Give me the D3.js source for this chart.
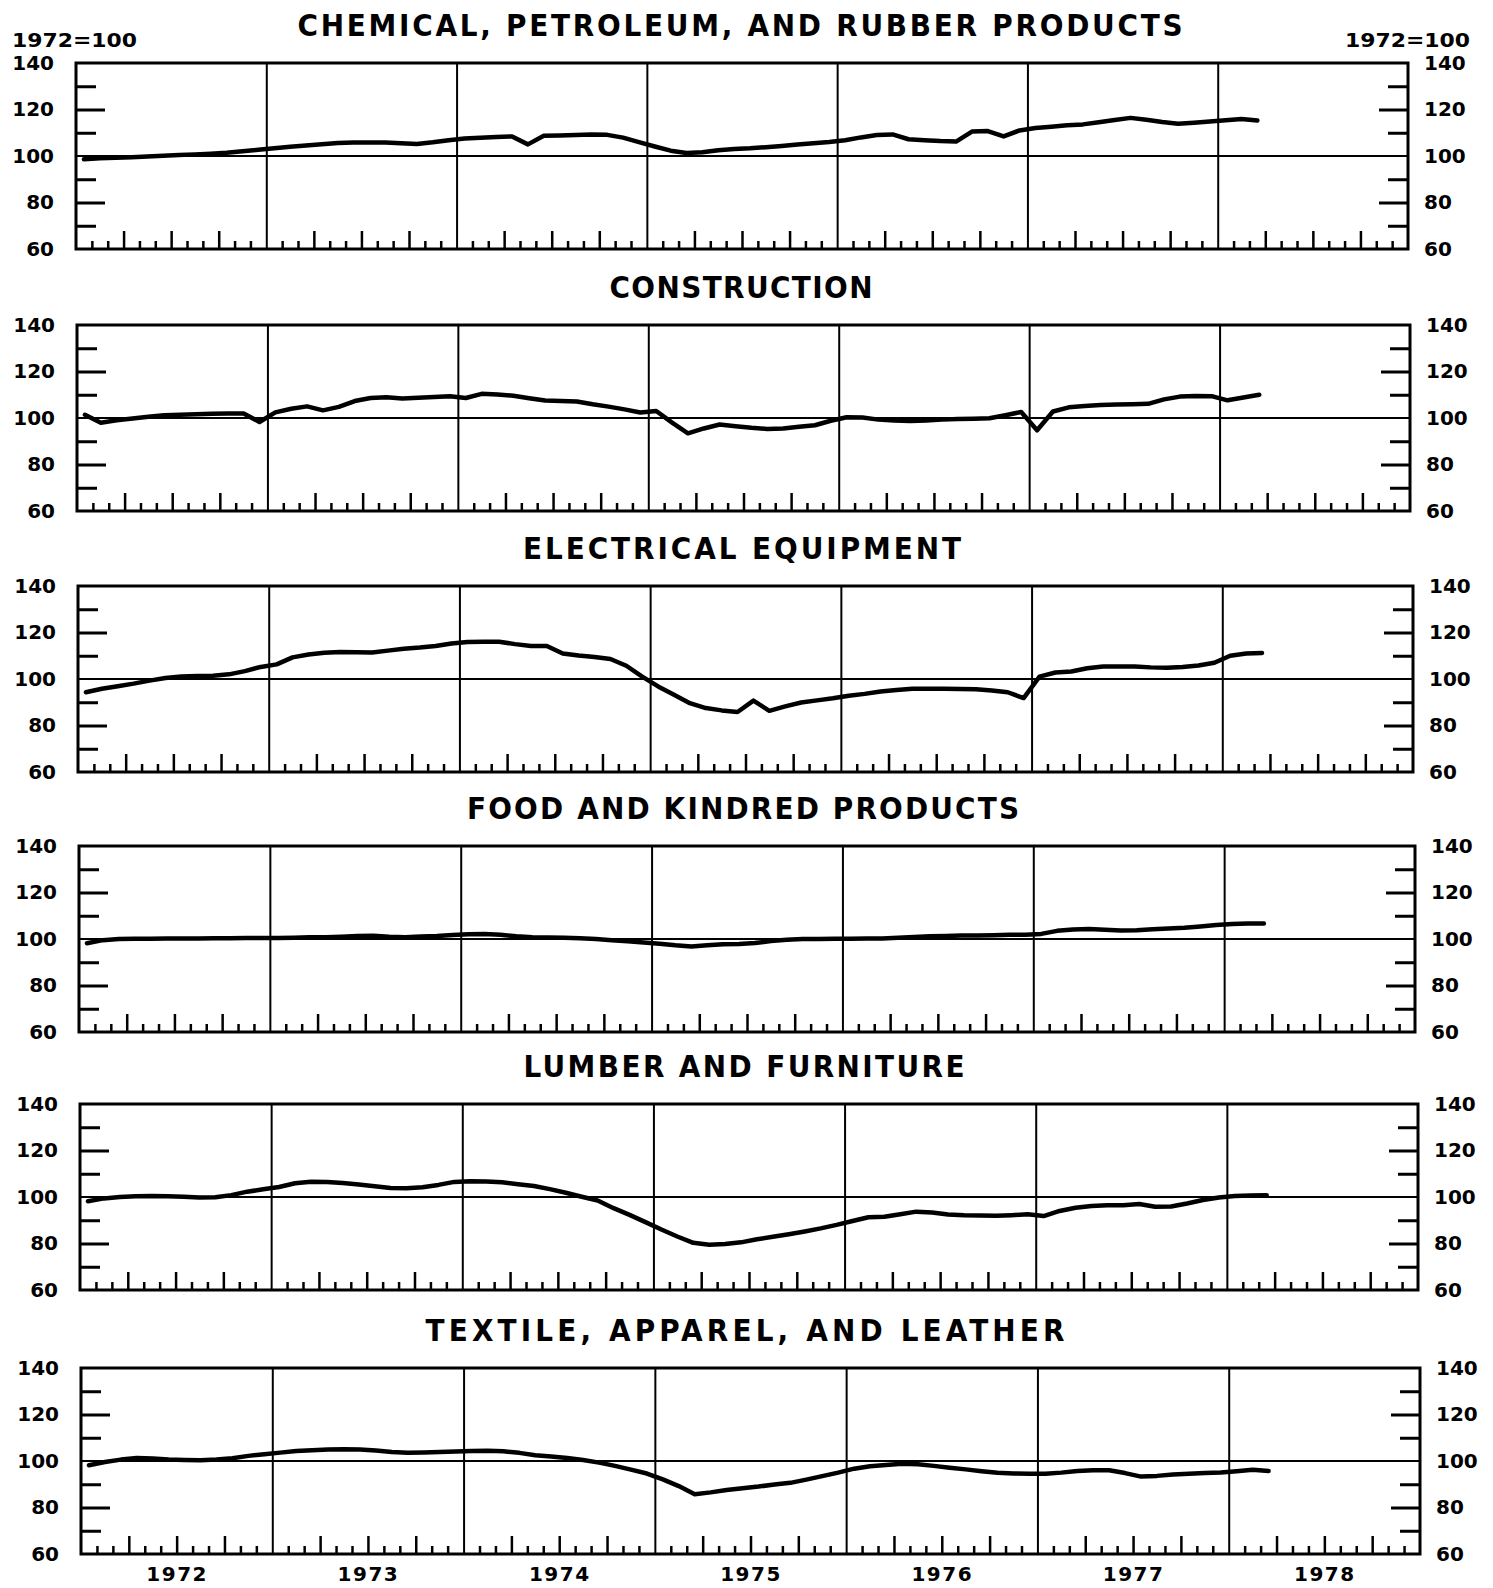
<!DOCTYPE html>
<html>
<head>
<meta charset="utf-8">
<script src="https://cdn.jsdelivr.net/npm/d3@7"></script>
<style>
  body { margin: 0; background: #fff; }
  text { font-family: "DejaVu Sans", sans-serif; font-weight: bold; fill: #000; }
  .title { font-stretch: condensed; }
</style>
</head>
<body>
<div id="chart"></div>
<script>

// values are 1972=100, monthly Jan 1972 .. Mar 1978
var years = ["1972", "1973", "1974", "1975", "1976", "1977", "1978"]
var yLabels = [60, 80, 100, 120, 140]
var titles = [
  "CHEMICAL, PETROLEUM, AND RUBBER PRODUCTS",
  "CONSTRUCTION",
  "ELECTRICAL EQUIPMENT",
  "FOOD AND KINDRED PRODUCTS",
  "LUMBER AND FURNITURE",
  "TEXTILE, APPAREL, AND LEATHER"
]

var chemical = [98.6, 99, 99.2, 99.5, 99.8, 100.1, 100.4, 100.7, 101, 101.4, 102, 102.7,
  103.3, 104, 104.5, 105.1, 105.6, 105.8, 105.8, 105.8, 105.5, 105.2, 105.9, 106.8,
  107.5, 107.9, 108.2, 108.4, 105, 108.7, 108.8, 109, 109.2, 109.1, 107.9, 106,
  104.1, 102.3, 101.3, 101.6, 102.5, 103, 103.3, 103.8, 104.3, 104.9, 105.5, 106,
  106.8, 108, 109, 109.3, 107.2, 106.8, 106.4, 106.2, 110.5, 110.7, 108.4, 111,
  112, 112.6, 113.2, 113.6, 114.5, 115.5, 116.4, 115.6, 114.6, 113.9, 114.3, 114.8,
  115.4, 115.9, 115.3]

var construction = [101.4, 98, 99, 99.8, 100.5, 101.2, 101.4, 101.6, 101.8, 101.9, 101.9, 98.3,
  102.4, 104, 105, 103.3, 104.8, 107.3, 108.6, 108.9, 108.4, 108.7, 109, 109.4,
  108.6, 110.4, 110.1, 109.6, 108.5, 107.5, 107.3, 107.1, 105.9, 104.9, 103.7, 102.4,
  103, 98, 93.4, 95.5, 97.2, 96.5, 95.8, 95.3, 95.5, 96.2, 96.9, 98.8,
  100.3, 100.2, 99.3, 98.9, 98.7, 98.9, 99.3, 99.6, 99.7, 99.9, 101.2, 102.6,
  94.7, 102.8, 104.6, 105.2, 105.6, 105.8, 105.9, 106.1, 108, 109.2, 109.5, 109.4,
  107.6, 108.8, 110]

var electrical = [94.3, 95.8, 96.9, 98, 99.3, 100.4, 101.1, 101.3, 101.4, 102, 103.4, 105.2,
  106.3, 109.3, 110.5, 111.3, 111.6, 111.5, 111.4, 112.2, 113, 113.5, 114.2, 115.3,
  115.9, 116, 116, 115, 114.2, 114.2, 111, 110.1, 109.5, 108.6, 105.7, 101,
  96.8, 93.2, 89.6, 87.5, 86.5, 85.8, 90.7, 86.3, 88.2, 89.9, 90.8, 91.7,
  92.8, 93.6, 94.6, 95.3, 95.8, 95.8, 95.8, 95.7, 95.6, 95.1, 94.3, 91.8,
  101, 102.8, 103.2, 104.6, 105.4, 105.4, 105.4, 105, 104.8, 105.2, 105.8, 107,
  110, 111, 111.2]

var food = [98.2, 99.5, 100, 100.1, 100.1, 100.2, 100.2, 100.2, 100.3, 100.3, 100.4, 100.4,
  100.4, 100.5, 100.7, 100.8, 101, 101.3, 101.4, 101, 100.8, 101.1, 101.3, 101.7,
  102, 102.2, 101.8, 101.2, 100.8, 100.6, 100.5, 100.3, 100, 99.5, 99, 98.5,
  98, 97.3, 96.8, 97.3, 97.7, 97.9, 98.3, 99.1, 99.7, 100, 100, 100.1,
  100.1, 100.2, 100.2, 100.5, 100.9, 101.2, 101.3, 101.5, 101.5, 101.6, 101.8, 101.8,
  102.2, 103.5, 104.1, 104.3, 104, 103.7, 103.8, 104.2, 104.5, 104.8, 105.4, 106,
  106.4, 106.7, 106.7]

var lumber = [98.2, 99.4, 100, 100.3, 100.4, 100.3, 100.1, 99.8, 99.9, 100.8, 102.3, 103.3,
  104.3, 105.9, 106.6, 106.5, 106, 105.4, 104.6, 103.9, 103.8, 104.2, 105.2, 106.5,
  106.8, 106.7, 106.3, 105.5, 104.7, 103.4, 101.8, 100.1, 98.5, 95.2, 92.3, 89.2,
  86, 83, 80.3, 79.5, 79.8, 80.5, 81.8, 82.9, 84, 85.2, 86.5, 88,
  89.7, 91.3, 91.5, 92.6, 93.7, 93.3, 92.5, 92.1, 92, 91.9, 92.2, 92.6,
  91.8, 94, 95.4, 96.1, 96.5, 96.5, 97, 95.8, 95.9, 97.2, 98.7, 99.8,
  100.4, 100.6, 100.7]

var textile = [98.2, 99.6, 100.6, 101.3, 101.1, 100.6, 100.4, 100.3, 100.6, 101.2, 102.2, 102.9,
  103.6, 104.3, 104.6, 104.9, 105.1, 104.9, 104.5, 103.9, 103.5, 103.7, 103.9, 104.1,
  104.3, 104.4, 104.2, 103.5, 102.5, 101.9, 101.3, 100.4, 99.3, 97.9, 96.3, 94.6,
  92.1, 89.2, 85.7, 86.5, 87.5, 88.3, 89, 89.9, 90.6, 92, 93.5, 95,
  96.7, 97.7, 98.3, 98.8, 98.6, 97.9, 97.1, 96.4, 95.6, 94.9, 94.6, 94.5,
  94.5, 95, 95.7, 96, 96, 94.8, 93.3, 93.6, 94.2, 94.5, 94.8, 95.1,
  95.6, 96.2, 95.7]

var series = [chemical, construction, electrical, food, lumber, textile]

// panel frames (the scan is slightly skewed)
var H = 186
var tops = [63, 325, 586, 846, 1104, 1368]
var lefts = [76, 77, 78, 79, 80, 81]
var rights = [1408, 1410, 1413, 1415, 1418, 1420]

var svg = d3.select("#chart")
  .append("svg")
  .attr("width", 1493)
  .attr("height", 1588)

function noDomain(s) { s.select(".domain").remove() }

series.forEach(function (vals, k) {
  var top = tops[k], bottom = tops[k] + H
  var x = d3.scaleLinear().domain([0, 84]).range([lefts[k], rights[k]])
  var y = d3.scaleLinear().domain([60, 140]).range([bottom, top])
  var g = svg.append("g")

  // year separators
  g.append("g")
    .attr("transform", "translate(0," + bottom + ")")
    .call(d3.axisBottom(x).tickValues(d3.range(12, 84, 12)).tickSize(-H).tickFormat(""))
    .call(noDomain)
    .selectAll("line").attr("stroke", "#000").attr("stroke-width", 2)

  // month ticks
  var monthsMinor = d3.range(1, 84).filter(function (m) { return m % 3 != 0 })
  var monthsMajor = d3.range(1, 84).filter(function (m) { return m % 3 == 0 && m % 12 != 0 })
  g.append("g")
    .attr("transform", "translate(0," + bottom + ")")
    .call(d3.axisBottom(x).tickValues(monthsMinor).tickSize(-8).tickFormat(""))
    .call(noDomain)
    .selectAll("line").attr("stroke", "#000").attr("stroke-width", 2.5)
  g.append("g")
    .attr("transform", "translate(0," + bottom + ")")
    .call(d3.axisBottom(x).tickValues(monthsMajor).tickSize(-18).tickFormat(""))
    .call(noDomain)
    .selectAll("line").attr("stroke", "#000").attr("stroke-width", 2.5)

  // 100 reference line
  g.append("line")
    .attr("x1", x(0)).attr("x2", x(84))
    .attr("y1", y(100)).attr("y2", y(100))
    .attr("stroke", "#000").attr("stroke-width", 2)

  // inner y ticks, both sides
  ;[[d3.axisLeft, lefts[k]], [d3.axisRight, rights[k]]].forEach(function (a) {
    g.append("g")
      .attr("transform", "translate(" + a[1] + ",0)")
      .call(a[0](y).tickValues([70, 90, 110, 130]).tickSize(-20).tickFormat(""))
      .call(noDomain)
      .selectAll("line").attr("stroke", "#000").attr("stroke-width", 3)
    g.append("g")
      .attr("transform", "translate(" + a[1] + ",0)")
      .call(a[0](y).tickValues([80, 120]).tickSize(-29).tickFormat(""))
      .call(noDomain)
      .selectAll("line").attr("stroke", "#000").attr("stroke-width", 3)
  })

  // y labels
  g.append("g")
    .attr("transform", "translate(" + lefts[k] + ",0)")
    .call(d3.axisLeft(y).tickValues(yLabels).tickSize(0).tickPadding(22))
    .call(noDomain)
    .attr("font-size", 20).attr("font-family", "DejaVu Sans").attr("font-weight", "bold")
  g.append("g")
    .attr("transform", "translate(" + rights[k] + ",0)")
    .call(d3.axisRight(y).tickValues(yLabels).tickSize(0).tickPadding(16))
    .call(noDomain)
    .attr("font-size", 20).attr("font-family", "DejaVu Sans").attr("font-weight", "bold")

  // frame
  g.append("rect")
    .attr("x", x(0)).attr("y", top)
    .attr("width", x(84) - x(0)).attr("height", H)
    .attr("fill", "none").attr("stroke", "#000").attr("stroke-width", 3)

  // series line, plotted at mid-month
  var line = d3.line()
    .x(function (d, i) { return x(i + 0.5) })
    .y(function (d) { return y(d) })
  g.append("path")
    .datum(vals)
    .attr("d", line)
    .attr("fill", "none")
    .attr("stroke", "#000")
    .attr("stroke-width", 4.5)
    .attr("stroke-linejoin", "round")
    .attr("stroke-linecap", "round")

  // title
  var tw = [885, 263, 438, 552, 441, 639][k]
  g.append("text")
    .attr("class", "title")
    .attr("x", 740 + k - tw / 2)
    .attr("y", top - 27)
    .attr("font-size", 31)
    .attr("textLength", tw)
    .attr("lengthAdjust", "spacing")
    .text(titles[k])

  // year labels under the last panel
  if (k == series.length - 1) {
    g.append("g")
      .attr("transform", "translate(0," + bottom + ")")
      .call(d3.axisBottom(x).tickValues(d3.range(6, 84, 12)).tickSize(0)
        .tickFormat(function (d, i) { return years[i] }))
      .call(noDomain)
      .attr("font-size", 20).attr("font-family", "DejaVu Sans").attr("font-weight", "bold")
      .selectAll("text").attr("y", 27).attr("dy", 0).attr("letter-spacing", 1.5)
  }
})

// base note, both corners
svg.append("text").attr("x", 12).attr("y", 47).attr("font-size", 20)
  .attr("textLength", 125).attr("lengthAdjust", "spacingAndGlyphs").text("1972=100")
svg.append("text").attr("x", 1345).attr("y", 47).attr("font-size", 20)
  .attr("textLength", 125).attr("lengthAdjust", "spacingAndGlyphs").text("1972=100")

</script>
</body>
</html>
